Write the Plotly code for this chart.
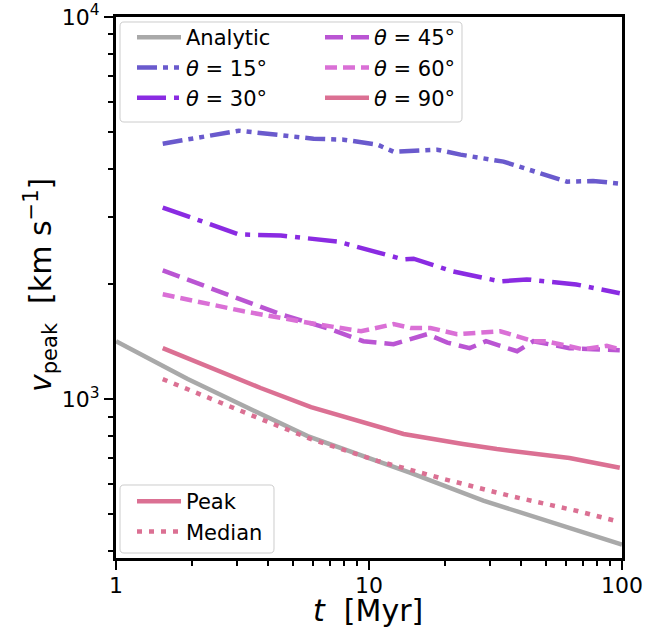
import plotly.graph_objects as go

# ---- data ----
t_analytic = [1.0, 1.92, 3.03, 5.72, 10.0, 14.6, 28.3, 50.0, 100.0]
v_analytic = [1417, 1128, 976, 800, 701, 641, 542, 480, 416]

t_15 = [1.53, 3.06, 6.04, 7.93, 10.8, 12.5, 18.6, 23.0, 34.0, 60.7, 76.8, 98.0]
v_15 = [4660, 5040, 4803, 4775, 4634, 4441, 4495, 4363, 4182, 3706, 3722, 3664]

t_30 = [1.53, 3.06, 4.48, 7.5, 13.7, 15.0, 21.5, 33.0, 42.0, 66.0, 98.0]
v_30 = [3172, 2698, 2680, 2585, 2320, 2330, 2158, 2032, 2057, 1995, 1893]

t_45 = [1.53, 2.77, 4.48, 7.05, 9.5, 12.5, 17.0, 20.4, 25.0, 29.0, 38.5, 44.6, 62.0, 76.8, 98.0]
v_45 = [2172, 1880, 1666, 1523, 1417, 1392, 1479, 1405, 1359, 1417, 1334, 1417, 1359, 1350, 1342]

t_60 = [1.53, 3.2, 5.9, 9.3, 12.5, 14.6, 17.5, 22.3, 33.0, 44.6, 50.0, 70.0, 87.0, 98.0]
v_60 = [1880, 1697, 1579, 1505, 1571, 1535, 1535, 1479, 1505, 1417, 1417, 1350, 1378, 1350]

t_90 = [1.53, 2.37, 3.73, 5.9, 9.25, 13.7, 23.5, 32.0, 62.0, 98.0]
v_90_peak = [1359, 1205, 1069, 953, 876, 810, 763, 740, 701, 661]

t_90m = [1.53, 2.37, 3.73, 5.9, 10.8, 19.7, 36.0, 66.0, 98.0]
v_90_median = [1128, 1000, 887, 786, 689, 618, 558, 510, 477]

x_tickvals = [1, 10, 100]
x_ticktext = ["1", "10", "100"]
x_minor = [2, 3, 4, 5, 6, 7, 8, 9, 20, 30, 40, 50, 60, 70, 80, 90]
y_tickvals = [1000, 10000]
y_ticktext = ["10<sup>3</sup>", "10<sup>4</sup>"]
y_minor = [400, 500, 600, 700, 800, 900, 2000, 3000, 4000, 5000, 6000, 7000, 8000, 9000]

FONT = "DejaVu Sans"
LW = 4.5

# figure geometry (page body margin removed via post_script)
W, H = 668, 632
ML, MR, MT, MB = 116, 46, 17, 74
PW, PH = W - ML - MR, H - MT - MB


def px(xp):  # page pixel -> paper x
    return (xp - ML) / PW


def py(yp):  # page pixel -> paper y
    return 1 - (yp - MT) / PH


def rounded_box(x0p, y0p, x1p, y1p, r=4):
    X = lambda v: f"{px(v):.5f}"
    Y = lambda v: f"{py(v):.5f}"
    return (f"M {X(x0p + r)},{Y(y0p)} L {X(x1p - r)},{Y(y0p)} "
            f"Q {X(x1p)},{Y(y0p)} {X(x1p)},{Y(y0p + r)} "
            f"L {X(x1p)},{Y(y1p - r)} Q {X(x1p)},{Y(y1p)} {X(x1p - r)},{Y(y1p)} "
            f"L {X(x0p + r)},{Y(y1p)} Q {X(x0p)},{Y(y1p)} {X(x0p)},{Y(y1p - r)} "
            f"L {X(x0p)},{Y(y0p + r)} Q {X(x0p)},{Y(y0p)} {X(x0p + r)},{Y(y0p)} Z")


fig = go.Figure()


def add(x, y, name, color, dash, legend):
    fig.add_trace(go.Scatter(
        x=x, y=y, mode="lines", name=name,
        line=dict(color=color, width=LW, dash=dash), legend=legend,
    ))


add(t_analytic, v_analytic, "Analytic", "#a9a9a9", "solid", "legend")
add(t_15, v_15, "<i>θ</i> = 15°", "#6a5acd", "20px,6px,5px,6px,5px,6px", "legend")
add(t_30, v_30, "<i>θ</i> = 30°", "#8a2be2", "29px,8px,5px,8px", "legend")
add(t_45, v_45, "<i>θ</i> = 45°", "#ba55d3", "18px,8px", "legend3")
add(t_60, v_60, "<i>θ</i> = 60°", "#da70d6", "12px,6px", "legend3")
add(t_90, v_90_peak, "<i>θ</i> = 90°", "#db7093", "solid", "legend3")
# legend-only entry for the solid "Peak" style
fig.add_trace(go.Scatter(
    x=[None], y=[None], mode="lines", name="Peak",
    line=dict(color="#db7093", width=LW), legend="legend2",
))
add(t_90m, v_90_median, "Median", "#db7093", "5px,7px", "legend2")

axis_common = dict(
    type="log", showline=True, linecolor="black", linewidth=3, mirror=True,
    ticks="outside", ticklen=9, tickwidth=2, tickcolor="black",
    showgrid=False, zeroline=False, automargin=False,
    ticklabeloverflow="allow",
    tickfont=dict(family=FONT, size=22, color="black"),
)

leg_common = dict(
    xanchor="left", yanchor="top", borderwidth=0, bgcolor="rgba(0,0,0,0)",
    font=dict(family=FONT, size=21, color="black"), traceorder="normal",
    itemwidth=44,
)

fig.update_layout(
    width=W, height=H,
    margin=dict(l=ML, r=MR, t=MT, b=MB),
    plot_bgcolor="white", paper_bgcolor="white",
    font=dict(family=FONT, color="black"),
    xaxis=dict(
        axis_common, range=[0, 2],
        tickvals=x_tickvals, ticktext=x_ticktext, ticklabelstandoff=-3,
        minor=dict(tickvals=x_minor, ticks="outside", ticklen=5, tickwidth=1.5,
                   tickcolor="black", showgrid=False),
    ),
    yaxis=dict(
        axis_common, range=[2.584, 4],
        tickvals=y_tickvals, ticktext=y_ticktext,
        minor=dict(tickvals=y_minor, ticks="outside", ticklen=5, tickwidth=1.5,
                   tickcolor="black", showgrid=False),
    ),
    legend=dict(leg_common, x=px(132), y=py(17)),
    legend3=dict(leg_common, x=px(320), y=py(17)),
    legend2=dict(leg_common, x=px(132), y=py(481)),
    shapes=[
        dict(type="path", xref="paper", yref="paper", layer="above",
             path=rounded_box(120, 22, 462, 122),
             line=dict(color="#cccccc", width=1), fillcolor="rgba(255,255,255,0.8)"),
        dict(type="path", xref="paper", yref="paper", layer="above",
             path=rounded_box(120, 485, 274, 553),
             line=dict(color="#cccccc", width=1), fillcolor="rgba(255,255,255,0.8)"),
    ],
    annotations=[
        dict(text="<i>t</i>  [Myr]", xref="paper", yref="paper",
             x=px(368), y=0, xanchor="center", yanchor="middle", yshift=-52,
             showarrow=False, font=dict(family=FONT, size=30, color="black")),
        dict(text="<i>v</i><sub>peak</sub>  [km s<sup>−1</sup>]", xref="paper", yref="paper",
             x=0, y=py(285), xanchor="center", yanchor="middle", xshift=-76,
             textangle=-90, showarrow=False,
             font=dict(family=FONT, size=30, color="black")),
    ],
)

fig.write_html("out.html", config={"displayModeBar": False},
               post_script="document.body.style.margin='0';")
